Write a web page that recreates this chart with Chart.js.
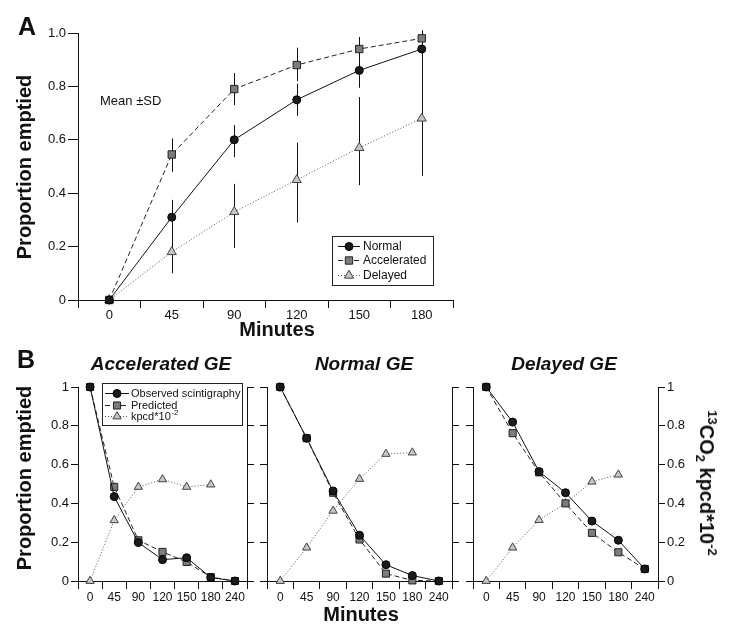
<!DOCTYPE html>
<html><head><meta charset="utf-8">
<script src="https://cdn.jsdelivr.net/npm/chart.js@4.4.0/dist/chart.umd.min.js"></script>
<style>
html,body{margin:0;padding:0;background:#fff;}
body{width:729px;height:638px;position:relative;overflow:hidden;font-family:"Liberation Sans",Arial,Helvetica,sans-serif;}
canvas{position:absolute;}
.t{position:absolute;white-space:nowrap;color:#111;line-height:1;}
.c{transform:translateX(-50%);}
.b{font-weight:bold;}
.bi{font-weight:bold;font-style:italic;}
</style></head><body>
<canvas id="cA" width="470" height="340" style="left:0;top:0;width:470px;height:340px"></canvas>
<canvas id="cB1" width="260" height="298" style="left:0;top:340px;width:260px;height:298px"></canvas>
<canvas id="cB2" width="215" height="298" style="left:250px;top:340px;width:215px;height:298px"></canvas>
<canvas id="cB3" width="269" height="298" style="left:460px;top:340px;width:269px;height:298px"></canvas>

<div class="t b" style="left:18px;top:14px;font-size:25px">A</div>
<div class="t" style="left:100px;top:94px;font-size:13px">Mean ±SD</div>
<div class="t b c" style="left:277px;top:319px;font-size:20px">Minutes</div>
<div class="t b" style="left:24px;top:167px;font-size:20px;transform:translate(-50%,-50%) rotate(-90deg)">Proportion emptied</div>

<div class="t b" style="left:17px;top:347px;font-size:25px">B</div>
<div class="t bi c" style="left:161px;top:354px;font-size:19px">Accelerated GE</div>
<div class="t bi c" style="left:364px;top:354px;font-size:19px">Normal GE</div>
<div class="t bi c" style="left:564px;top:354px;font-size:19px">Delayed GE</div>
<div class="t b c" style="left:361px;top:604px;font-size:20px">Minutes</div>
<div class="t b" style="left:24px;top:478px;font-size:20px;transform:translate(-50%,-50%) rotate(-90deg)">Proportion emptied</div>
<div class="t b" style="left:707px;top:483px;font-size:20px;transform:translate(-50%,-50%) rotate(90deg)"><span style="font-size:13px;position:relative;top:-8px">13</span>CO<span style="font-size:13px;position:relative;top:4px">2</span> kpcd*10<span style="font-size:13px;position:relative;top:-8px">-2</span></div>

<script>
const FONT = "'Liberation Sans', Arial, Helvetica, sans-serif";
Chart.defaults.font.family = FONT;
Chart.defaults.color = '#111';
Chart.defaults.animation = false;

// ---------- Panel A data ----------
const minutesA = ['0', '45', '90', '120', '150', '180'];
const yTicksA = ['0', '0.2', '0.4', '0.6', '0.8', '1.0'];
const normalA = [0, 0.31, 0.60, 0.75, 0.86, 0.94];
const normalLoA = [null, 0.255, 0.535, 0.69, 0.795, 0.895];
const normalHiA = [null, 0.375, 0.655, 0.81, 0.925, 0.985];
const accelA = [0, 0.545, 0.79, 0.88, 0.94, 0.98];
const accelLoA = [null, 0.48, 0.73, 0.82, 0.895, 0.96];
const accelHiA = [null, 0.605, 0.85, 0.945, 0.985, 1.01];
const delayedA = [0, 0.18, 0.33, 0.45, 0.57, 0.68];
const delayedLoA = [null, 0.10, 0.195, 0.29, 0.43, 0.465];
const delayedHiA = [null, 0.26, 0.435, 0.59, 0.76, 0.895];

// ---------- Panel B data ----------
const minutesB = ['0', '45', '90', '120', '150', '180', '240'];
const yTicksB = ['0', '0.2', '0.4', '0.6', '0.8', '1'];
const accObserved = [1, 0.435, 0.198, 0.11, 0.12, 0.018, 0];
const accPredicted = [1, 0.485, 0.21, 0.15, 0.098, 0.02, 0];
const accKpcd = [0, 0.313, 0.485, 0.524, 0.485, 0.497, null];
const norObserved = [1, 0.736, 0.464, 0.236, 0.084, 0.028, 0];
const norPredicted = [1, 0.736, 0.455, 0.214, 0.038, 0.003, 0];
const norKpcd = [0, 0.172, 0.362, 0.526, 0.655, 0.662, null];
const delObserved = [1, 0.819, 0.564, 0.455, 0.309, 0.21, 0.062];
const delPredicted = [1, 0.762, 0.56, 0.40, 0.248, 0.148, 0.062];
const delKpcd = [0, 0.172, 0.314, 0.40, 0.512, 0.548, null];

// ---------- styles ----------
const ST = {
  circle: {pointStyle: 'circle', pointRadius: 4, pointBackgroundColor: '#1b1b1b', pointBorderColor: '#000', borderColor: '#111', borderDash: []},
  square: {pointStyle: 'rect', pointRadius: 5.2, pointBackgroundColor: '#7c7c7c', pointBorderColor: '#222', borderColor: '#222', borderDash: [5, 3]},
  tri: {pointStyle: 'triangle', pointRadius: 5.3, pointBackgroundColor: '#c6c6c6', pointBorderColor: '#444', borderColor: '#555', borderDash: [1, 2]}
};
function ds(label, data, st, order) {
  return Object.assign({label, data, order, borderWidth: 1, pointBorderWidth: 1, tension: 0,
    fill: false, clip: false, spanGaps: false, pointHoverRadius: 0}, JSON.parse(JSON.stringify(st)));
}

function yAxis(pos, width, labels, tickLen, showLabels) {
  return {
    type: 'linear', position: pos, min: 0, max: 1, display: true,
    ticks: {stepSize: 0.2, display: showLabels, padding: 2, color: '#111', font: {size: 13},
      callback: (v, i) => labels[i]},
    grid: {drawOnChartArea: false, drawTicks: true, tickLength: tickLen, color: '#111', lineWidth: 1},
    border: {display: true, color: '#111', width: 1},
    afterFit: s => { s.width = width; }
  };
}
function xAxis(height, fontSize, pad) {
  return {
    type: 'category', offset: true,
    ticks: {padding: pad, color: '#111', font: {size: fontSize}, maxRotation: 0, autoSkip: false},
    grid: {offset: true, drawOnChartArea: false, drawTicks: true, tickLength: 8, color: '#111', lineWidth: 1},
    border: {display: true, color: '#111', width: 1},
    afterFit: s => { s.height = height; }
  };
}

function errorPlugin(pairs) {
  return {
    id: 'errorBars',
    beforeDatasetsDraw(chart) {
      const ctx = chart.ctx, xs = chart.scales.x, ys = chart.scales.y;
      ctx.save();
      ctx.strokeStyle = '#111'; ctx.lineWidth = 1;
      pairs.forEach(([lo, hi]) => {
        lo.forEach((l, i) => {
          if (l == null) return;
          const px = Math.round(xs.getPixelForValue(i)) + 0.5;
          ctx.beginPath();
          ctx.moveTo(px, ys.getPixelForValue(l));
          ctx.lineTo(px, ys.getPixelForValue(hi[i]));
          ctx.stroke();
        });
      });
      ctx.restore();
    }
  };
}

function drawMarker(ctx, d, x, y) {
  ctx.fillStyle = d.pointBackgroundColor;
  ctx.strokeStyle = d.pointBorderColor;
  ctx.lineWidth = 1;
  if (Chart.helpers && Chart.helpers.drawPoint) {
    Chart.helpers.drawPoint(ctx, {pointStyle: d.pointStyle, radius: d.pointRadius, rotation: 0, borderWidth: 1}, x, y);
    return;
  }
  const r = d.pointRadius;
  ctx.beginPath();
  if (d.pointStyle === 'circle') ctx.arc(x, y, r, 0, Math.PI * 2);
  else if (d.pointStyle === 'rect') { const s = r * Math.SQRT1_2; ctx.rect(x - s, y - s, 2 * s, 2 * s); }
  else { for (let k = 0; k < 3; k++) { const a = k * 2 * Math.PI / 3; ctx.lineTo(x + Math.sin(a) * r, y - Math.cos(a) * r); } ctx.closePath(); }
  ctx.fill(); ctx.stroke();
}

function legendPlugin(L) {
  return {
    id: 'customLegend',
    afterDatasetsDraw(chart) {
      const ctx = chart.ctx;
      ctx.save();
      ctx.fillStyle = '#fff';
      ctx.fillRect(L.x, L.y, L.w, L.h);
      ctx.strokeStyle = '#222'; ctx.lineWidth = 1;
      ctx.strokeRect(L.x + 0.5, L.y + 0.5, L.w, L.h);
      chart.data.datasets.forEach((d, i) => {
        const yy = Math.round(L.y + L.row0 + i * L.rowH) + 0.5;
        ctx.strokeStyle = d.borderColor; ctx.lineWidth = 1;
        ctx.setLineDash(d.borderDash || []);
        ctx.beginPath(); ctx.moveTo(L.x0, yy); ctx.lineTo(L.x1, yy); ctx.stroke();
        ctx.setLineDash([]);
        drawMarker(ctx, d, (L.x0 + L.x1) / 2, yy);
        ctx.fillStyle = '#111';
        ctx.textBaseline = 'middle'; ctx.textAlign = 'left';
        ctx.font = L.size + 'px ' + FONT;
        const m = d.label.match(/^(.*?)([⁻²]+)$/);
        if (m) {
          ctx.fillText(m[1], L.tx, yy);
          const w = ctx.measureText(m[1]).width;
          ctx.font = Math.round(L.size * 0.7) + 'px ' + FONT;
          ctx.fillText(m[2].replace('⁻', '-').replace('²', '2'), L.tx + w + 0.5, yy - L.size * 0.35);
        } else {
          ctx.fillText(d.label, L.tx, yy);
        }
      });
      ctx.restore();
    }
  };
}

const baseOpts = (padding, scales) => ({
  responsive: false, animation: false,
  layout: {padding},
  plugins: {legend: {display: false}, tooltip: {enabled: false}},
  events: [],
  scales
});

// ---------- Panel A ----------
new Chart(document.getElementById('cA'), {
  type: 'line',
  data: {labels: minutesA, datasets: [
    ds('Normal', normalA, ST.circle, 0),
    ds('Accelerated', accelA, ST.square, 1),
    ds('Delayed', delayedA, ST.tri, 2)
  ]},
  options: baseOpts({top: 33, left: 0, right: 17, bottom: 0}, {
    x: xAxis(40, 13, 0),
    y: yAxis('left', 78, yTicksA, 10, true)
  }),
  plugins: [
    errorPlugin([[delayedLoA, delayedHiA], [normalLoA, normalHiA], [accelLoA, accelHiA]]),
    legendPlugin({x: 332, y: 236, w: 101, h: 49, row0: 9.5, rowH: 14.5, x0: 338, x1: 360, tx: 363, size: 12})
  ]
});

// ---------- Panel B ----------
function panelB(id, obs, pred, kp, padding, leftW, rightW, showLeft, showRight, legend) {
  const plugins = [];
  if (legend) plugins.push(legendPlugin(legend));
  return new Chart(document.getElementById(id), {
    type: 'line',
    data: {labels: minutesB, datasets: [
      ds('Observed scintigraphy', obs, Object.assign({}, ST.circle, {pointRadius: 4}), 0),
      ds('Predicted', pred, Object.assign({}, ST.square, {pointRadius: 5}), 1),
      ds('kpcd*10⁻²', kp, Object.assign({}, ST.tri, {pointRadius: 4.8}), 2)
    ]},
    options: baseOpts(padding, {
      x: xAxis(57, 12, 1),
      y: yAxis('left', leftW, yTicksB, 7, showLeft),
      y2: yAxis('right', rightW, yTicksB, 7, showRight)
    }),
    plugins
  });
}

panelB('cB1', accObserved, accPredicted, accKpcd, {top: 47, left: 0, right: 0, bottom: 0}, 78, 13, true, false,
  {x: 102, y: 43, w: 140, h: 42, row0: 10, rowH: 11.5, x0: 105, x1: 129, tx: 131, size: 11});
panelB('cB2', norObserved, norPredicted, norKpcd, {top: 47, left: 0, right: 0, bottom: 0}, 17, 13, false, false, null);
panelB('cB3', delObserved, delPredicted, delKpcd, {top: 47, left: 0, right: 0, bottom: 0}, 13, 71, false, true, null);
</script>
</body></html>
